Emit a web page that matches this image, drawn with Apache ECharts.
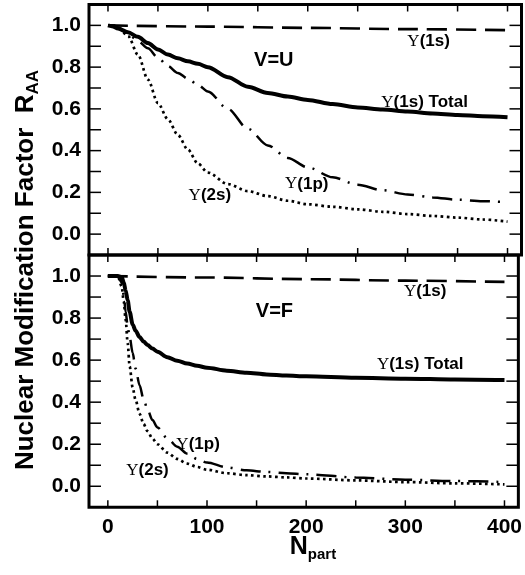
<!DOCTYPE html>
<html><head><meta charset="utf-8">
<script src="https://cdn.jsdelivr.net/npm/echarts@6/dist/echarts.min.js"></script>
<style>html,body{margin:0;padding:0;background:#fff}#c{width:525px;height:575px}</style>
</head><body><div id="c"></div>
<script>
// ---- axis ranges and tick values ----
const xMin = -19, xMax = 414, yMin = -0.1, yMax = 1.1;
const xTicks = [0, 50, 100, 150, 200, 250, 300, 350, 400];
const xLabels = [0, 100, 200, 300, 400];
const yTicks = [0, 0.1, 0.2, 0.3, 0.4, 0.5, 0.6, 0.7, 0.8, 0.9, 1.0];
const yLabels = [0, 0.2, 0.4, 0.6, 0.8, 1.0];

// ---- top panel (V=U) ----
const topN = [0,5,10,20,30,40,50,60,70,80,90,100,120,140,160,180,200,225,250,275,300,325,350,375,400];
const topTotal = [1.0,0.995,0.985,0.967,0.945,0.915,0.885,0.86,0.842,0.828,0.816,0.80,0.752,0.706,0.676,0.659,0.643,0.623,0.607,0.597,0.587,0.578,0.571,0.565,0.56];
const top1p = [1.0,1.0,0.99,0.96,0.925,0.89,0.845,0.805,0.772,0.745,0.715,0.683,0.60,0.505,0.425,0.365,0.32,0.272,0.237,0.21,0.19,0.176,0.165,0.158,0.153];
const top2s = [1.0,1.0,0.99,0.95,0.86,0.74,0.628,0.55,0.475,0.405,0.338,0.295,0.24,0.206,0.182,0.16,0.143,0.131,0.119,0.107,0.096,0.087,0.079,0.07,0.06];
const top1sN = [0, 100, 200, 300, 400];
const top1s = [1.0, 0.994, 0.988, 0.982, 0.977];

// ---- bottom panel (V=F) ----
const botN = [0,10,14,16,18,20,22,25,28,32,36,40,45,50,60,70,80,90,100,120,140,160,180,200,250,300,350,400];
const botTotal = [1.0,1.0,0.995,0.97,0.93,0.885,0.83,0.77,0.74,0.71,0.688,0.672,0.655,0.64,0.614,0.597,0.584,0.573,0.564,0.55,0.54,0.532,0.527,0.523,0.516,0.512,0.508,0.505];
const bot1p = [1.0,1.0,0.97,0.91,0.83,0.76,0.71,0.635,0.56,0.48,0.415,0.365,0.315,0.28,0.228,0.188,0.155,0.13,0.113,0.09,0.076,0.068,0.062,0.057,0.042,0.031,0.025,0.02];
const bot2s = [1.0,1.0,0.95,0.88,0.79,0.68,0.57,0.47,0.41,0.345,0.297,0.262,0.227,0.2,0.16,0.13,0.108,0.092,0.079,0.062,0.053,0.047,0.042,0.037,0.028,0.02,0.014,0.009];
const bot1sN = [0, 100, 200, 300, 400];
const bot1s = [1.0, 0.993, 0.985, 0.978, 0.972];

// ---- annotations (data coordinates) ----
const notes = [
  {panel: 0, text: '{v|V=U}', N: 166, R: 0.83},
  {panel: 0, text: '{u|Υ}{b|(1s)}', N: 321, R: 0.925},
  {panel: 0, text: '{u|Υ}{b|(1s) Total}', N: 317, R: 0.63},
  {panel: 0, text: '{u|Υ}{b|(1p)}', N: 199, R: 0.24},
  {panel: 0, text: '{u|Υ}{b|(2s)}', N: 102, R: 0.187},
  {panel: 1, text: '{v|V=F}', N: 168, R: 0.833},
  {panel: 1, text: '{u|Υ}{b|(1s)}', N: 320, R: 0.926},
  {panel: 1, text: '{u|Υ}{b|(1s) Total}', N: 315, R: 0.58},
  {panel: 1, text: '{u|Υ}{b|(1p)}', N: 91, R: 0.20},
  {panel: 1, text: '{u|Υ}{b|(2s)}', N: 40, R: 0.077}
];

const SANS = 'Liberation Sans, Arial, Helvetica, sans-serif';
const SERIF = 'Liberation Serif, Times New Roman, serif';
const zip = (xs, ys) => xs.map((x, i) => [x, ys[i]]);
const XTICK_LEN = 7, YTICK_LEN = 12;

function xAx(g, pos, labels) {
  return {
    type: 'value', gridIndex: g, position: pos, min: xMin, max: xMax,
    axisLine: {show: false, onZero: false}, splitLine: {show: false}, axisTick: {show: false},
    axisLabel: {show: labels, customValues: xLabels, margin: 9, color: '#000', fontFamily: SANS, fontWeight: 'bold', fontSize: 21}
  };
}
function yAx(g, pos, labels) {
  return {
    type: 'value', gridIndex: g, position: pos, min: yMin, max: yMax,
    axisLine: {show: false, onZero: false}, splitLine: {show: false}, axisTick: {show: false},
    axisLabel: {show: labels, customValues: yLabels, margin: 8, color: '#000', fontFamily: SANS, fontWeight: 'bold', fontSize: 21,
      formatter: v => (Math.round(v * 10) / 10).toFixed(1)}
  };
}
const styles = {
  total: {color: '#000', width: 4, type: 'solid'},
  s1: {color: '#000', width: 2.6, type: [20, 9], cap: 'butt'},
  p1: {color: '#000', width: 2.5, type: [20, 8, 2, 8], cap: 'butt'},
  s2: {color: '#000', width: 2.7, type: [2.6, 3.4], cap: 'butt'}
};
function ser(xi, yi, data, st) {
  return {type: 'line', xAxisIndex: xi, yAxisIndex: yi, data: data, symbol: 'none', showSymbol: false,
    smooth: 0.3, smoothMonotone: 'x', lineStyle: st, silent: true, animation: false, z: 3};
}

const chart = echarts.init(document.getElementById('c'), null, {renderer: 'canvas'});
chart.setOption({
  animation: false,
  backgroundColor: '#fff',
  grid: [
    {left: 89, right: 3.5, top: 4.5, height: 250.5},
    {left: 89, right: 3.5, top: 255, height: 252.3}
  ],
  xAxis: [xAx(0, 'bottom', false), xAx(0, 'top', false), xAx(1, 'bottom', true), xAx(1, 'top', false)],
  yAxis: [yAx(0, 'left', true), yAx(0, 'right', false), yAx(1, 'left', true), yAx(1, 'right', false)],
  series: [
    ser(0, 0, zip(top1sN, top1s), styles.s1),
    ser(0, 0, zip(topN, topTotal), styles.total),
    ser(0, 0, zip(topN, top1p), styles.p1),
    ser(0, 0, zip(topN, top2s), styles.s2),
    ser(2, 2, zip(bot1sN, bot1s), styles.s1),
    ser(2, 2, zip(botN, botTotal), styles.total),
    ser(2, 2, zip(botN, bot1p), styles.p1),
    ser(2, 2, zip(botN, bot2s), styles.s2)
  ]
});

const graphics = [];
// frames and inward ticks, positioned through the axis scales
[0, 4].forEach(si => {
  const tl = chart.convertToPixel({seriesIndex: si}, [xMin, yMax]);
  const br = chart.convertToPixel({seriesIndex: si}, [xMax, yMin]);
  graphics.push({type: 'rect', z: 20, silent: true,
    shape: {x: tl[0], y: tl[1], width: br[0] - tl[0], height: br[1] - tl[1]},
    style: {fill: 'none', stroke: '#000', lineWidth: 3}});
  xTicks.forEach(v => {
    const px = chart.convertToPixel({seriesIndex: si}, [v, yMin])[0];
    graphics.push({type: 'line', z: 19, silent: true, shape: {x1: px, y1: tl[1], x2: px, y2: tl[1] + XTICK_LEN}, style: {stroke: '#000', lineWidth: 1.5}});
    graphics.push({type: 'line', z: 19, silent: true, shape: {x1: px, y1: br[1], x2: px, y2: br[1] - XTICK_LEN}, style: {stroke: '#000', lineWidth: 1.5}});
  });
  yTicks.forEach(v => {
    const py = chart.convertToPixel({seriesIndex: si}, [xMin, v])[1];
    graphics.push({type: 'line', z: 19, silent: true, shape: {x1: tl[0], y1: py, x2: tl[0] + YTICK_LEN, y2: py}, style: {stroke: '#000', lineWidth: 1.5}});
    graphics.push({type: 'line', z: 19, silent: true, shape: {x1: br[0], y1: py, x2: br[0] - YTICK_LEN, y2: py}, style: {stroke: '#000', lineWidth: 1.5}});
  });
});

const richNote = {
  u: {fontFamily: SERIF, fontSize: 17, fontWeight: 'normal', fill: '#000'},
  b: {fontFamily: SANS, fontSize: 17, fontWeight: 'bold', fill: '#000'},
  v: {fontFamily: SANS, fontSize: 20, fontWeight: 'bold', fill: '#000'}
};
notes.forEach(n => {
  const p = chart.convertToPixel({seriesIndex: n.panel === 0 ? 0 : 4}, [n.N, n.R]);
  graphics.push({type: 'text', x: p[0], y: p[1], z: 10,
    style: {text: n.text, rich: richNote, textAlign: 'center', textVerticalAlign: 'middle'}});
});
graphics.push({
  type: 'text', x: 26, y: 270, rotation: Math.PI / 2, z: 10,
  style: {
    text: '{a|Nuclear Modification Factor  R}{b|AA}',
    rich: {
      a: {fontFamily: SANS, fontSize: 26, fontWeight: 'bold', lineHeight: 32, fill: '#000'},
      b: {fontFamily: SANS, fontSize: 17, fontWeight: 'bold', lineHeight: 14, verticalAlign: 'bottom', fill: '#000'}
    },
    textAlign: 'center', textVerticalAlign: 'middle'
  }
});
graphics.push({
  type: 'text', x: 313, y: 547, z: 10,
  style: {
    text: '{a|N}{b|part}',
    rich: {
      a: {fontFamily: SANS, fontSize: 25, fontWeight: 'bold', lineHeight: 30, fill: '#000'},
      b: {fontFamily: SANS, fontSize: 15, fontWeight: 'bold', lineHeight: 12, verticalAlign: 'bottom', fill: '#000'}
    },
    textAlign: 'center', textVerticalAlign: 'middle'
  }
});
chart.setOption({graphic: graphics});
</script>
</body></html>
